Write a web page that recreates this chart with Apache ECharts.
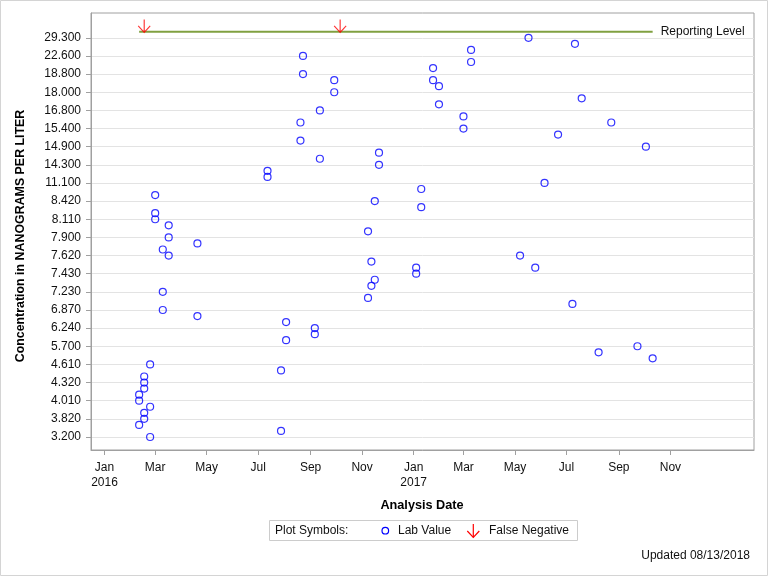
<!DOCTYPE html>
<html><head><meta charset="utf-8">
<script src="https://cdn.jsdelivr.net/npm/echarts@6/dist/echarts.min.js"></script>
<style>html,body{margin:0;padding:0;background:#fff}#c{width:768px;height:576px}</style>
</head><body><div id="c"></div>
<script>
// Y axis is a discrete (rank) axis: every distinct measured level is one step,
// and every third level carries a tick label.
const yTickLabels = ['3.200','3.820','4.010','4.320','4.610','5.700','6.240','6.870','7.230','7.430','7.620','7.900','8.110','8.420','11.100','14.300','14.900','15.400','16.800','18.000','18.800','22.600','29.300'];
const levelsPerTick = 3;

// Lab values: analysis date and level (rank position on the discrete axis)
const labDates = [
 '2016-02-11','2016-02-11','2016-02-11',
 '2016-02-17','2016-02-17','2016-02-17','2016-02-17','2016-02-17',
 '2016-02-24','2016-02-24','2016-02-24',
 '2016-03-01','2016-03-01','2016-03-01',
 '2016-03-10','2016-03-10','2016-03-10',
 '2016-03-17','2016-03-17','2016-03-17',
 '2016-04-20','2016-04-20',
 '2016-07-12','2016-07-12',
 '2016-07-28','2016-07-28',
 '2016-08-03','2016-08-03',
 '2016-08-20','2016-08-20',
 '2016-08-23','2016-08-23',
 '2016-09-06','2016-09-06',
 '2016-09-12','2016-09-12',
 '2016-09-29','2016-09-29',
 '2016-11-08','2016-11-08',
 '2016-11-12','2016-11-12',
 '2016-11-16','2016-11-16',
 '2016-11-21','2016-11-21',
 '2017-01-04','2017-01-04',
 '2017-01-10','2017-01-10',
 '2017-01-24','2017-01-24',
 '2017-01-31','2017-01-31',
 '2017-03-01','2017-03-01',
 '2017-03-10','2017-03-10',
 '2017-05-07','2017-05-17','2017-05-25','2017-06-05','2017-06-21',
 '2017-07-08','2017-07-11','2017-07-19','2017-08-08','2017-08-23',
 '2017-09-23','2017-10-03','2017-10-11'
];
const labLevels = [
 7,6,2,
 10,9,8,4,3,
 12,5,0,
 40,37,36,
 31,24,21,
 35,33,30,
 32,20,
 44,43,
 11,1,
 19,16,
 52,49,
 63,60,
 18,17,
 54,46,
 59,57,
 34,23,
 29,25,
 39,26,
 47,45,
 28,27,
 41,38,
 61,59,
 58,55,
 53,51,
 64,62,
 30,66,28,42,50,
 22,65,56,14,52,
 15,48,13
];

const falseNegDates = ['2016-02-17','2016-10-06'];
const reportingLevel = 67;            // level position of the reporting level
const reportingDates = ['2016-02-11','2017-10-11'];
const monthTicks = ['2016-01-01','2016-03-01','2016-05-01','2016-07-01','2016-09-01','2016-11-01',
                    '2017-01-01','2017-03-01','2017-05-01','2017-07-01','2017-09-01','2017-11-01'];
const monthNames = ['Jan','Feb','Mar','Apr','May','Jun','Jul','Aug','Sep','Oct','Nov','Dec'];

const FONT = '"Liberation Sans", Arial, sans-serif';
const t = s => Date.parse(s);

const chart = echarts.init(document.getElementById('c'), null, {renderer: 'canvas'});
const yTickVals = yTickLabels.map((_, i) => i * levelsPerTick);
const xTickVals = monthTicks.map(t);

chart.setOption({
  animation: false,
  backgroundColor: '#fff',
  grid: {left: 91, top: 13, right: 14, bottom: 126, show: true, borderColor: '#a0a0a0', borderWidth: 1, containLabel: false},
  xAxis: {
    type: 'value',
    min: t('2015-12-16'), max: t('2018-02-08'),
    axisLine: {show: true, onZero: false, lineStyle: {color: '#a0a0a0'}},
    axisTick: {show: true, length: 5, customValues: xTickVals, lineStyle: {color: '#a0a0a0'}},
    axisLabel: {customValues: xTickVals, margin: 10, color: '#111', fontFamily: FONT, fontSize: 12, lineHeight: 15,
      formatter: v => { const d = new Date(v); const m = d.getUTCMonth();
        return monthNames[m] + (m === 0 ? '\n' + d.getUTCFullYear() : ''); }},
    splitLine: {show: false}
  },
  yAxis: {
    type: 'value',
    min: -2.15, max: 70.1,
    axisLine: {show: true, onZero: false, lineStyle: {color: '#a0a0a0'}},
    axisTick: {show: true, length: 5, customValues: yTickVals, lineStyle: {color: '#a0a0a0'}},
    axisLabel: {customValues: yTickVals, margin: 10, color: '#111', fontFamily: FONT, fontSize: 12,
      formatter: v => yTickLabels[Math.round(v / levelsPerTick)]},
    splitLine: {show: true, lineStyle: {color: '#e3e3e3', width: 1}}
  },
  series: [
    {
      type: 'line', name: 'Reporting Level',
      data: reportingDates.map(d => [t(d), reportingLevel]),
      symbol: 'none', silent: true,
      lineStyle: {color: '#80a040', width: 2},
      endLabel: {show: true, formatter: 'Reporting Level', distance: 8, color: '#111', fontFamily: FONT, fontSize: 12}
    },
    {
      type: 'scatter', name: 'Lab Value',
      data: labDates.map((d, i) => [t(d), labLevels[i]]),
      symbol: 'circle', symbolSize: 7,
      itemStyle: {color: 'rgba(0,0,0,0)', borderColor: '#0000ff', borderWidth: 1.2},
      z: 3
    },
    {
      type: 'scatter', name: 'False Negative',
      data: falseNegDates.map(d => [t(d), reportingLevel]),
      symbol: 'path://M6,0L6,13M0,6.5L6,13L12,6.5', symbolSize: [12, 13], symbolOffset: [0, '-45%'],
      itemStyle: {color: 'none', borderColor: '#ff0000', borderWidth: 1.2},
      z: 4
    }
  ],
  graphic: [
    {type: 'rect', shape: {x: 0.5, y: 0.5, width: 767, height: 575}, style: {fill: 'none', stroke: '#d4d4d4', lineWidth: 1}, silent: true},
    {type: 'text', x: 21, y: 236, rotation: Math.PI / 2, style: {text: 'Concentration in NANOGRAMS PER LITER', font: 'bold 12.4px ' + FONT, fill: '#000', align: 'center', verticalAlign: 'middle'}},
    {type: 'text', x: 422, y: 505, style: {text: 'Analysis Date', font: 'bold 12.7px ' + FONT, fill: '#000', align: 'center', verticalAlign: 'middle'}},
    {type: 'rect', shape: {x: 269.5, y: 520.5, width: 308, height: 20}, style: {fill: '#fff', stroke: '#cccccc', lineWidth: 1}},
    {type: 'text', x: 275, y: 531, style: {text: 'Plot Symbols:', font: '12px ' + FONT, fill: '#111', align: 'left', verticalAlign: 'middle'}},
    {type: 'circle', shape: {cx: 385.3, cy: 530.7, r: 3.3}, style: {fill: 'none', stroke: '#0000ff', lineWidth: 1.2}},
    {type: 'text', x: 398, y: 531, style: {text: 'Lab Value', font: '12px ' + FONT, fill: '#111', align: 'left', verticalAlign: 'middle'}},
    {type: 'polyline', shape: {points: [[473.3, 524], [473.3, 537.3]]}, style: {stroke: '#ff0000', lineWidth: 1.2, fill: 'none'}},
    {type: 'polyline', shape: {points: [[467.3, 531], [473.3, 537.3], [479.3, 531]]}, style: {stroke: '#ff0000', lineWidth: 1.2, fill: 'none'}},
    {type: 'text', x: 489, y: 531, style: {text: 'False Negative', font: '12px ' + FONT, fill: '#111', align: 'left', verticalAlign: 'middle'}},
    {type: 'text', x: 750, y: 556, style: {text: 'Updated 08/13/2018', font: '12px ' + FONT, fill: '#111', align: 'right', verticalAlign: 'middle'}}
  ]
});
</script>
</body></html>
